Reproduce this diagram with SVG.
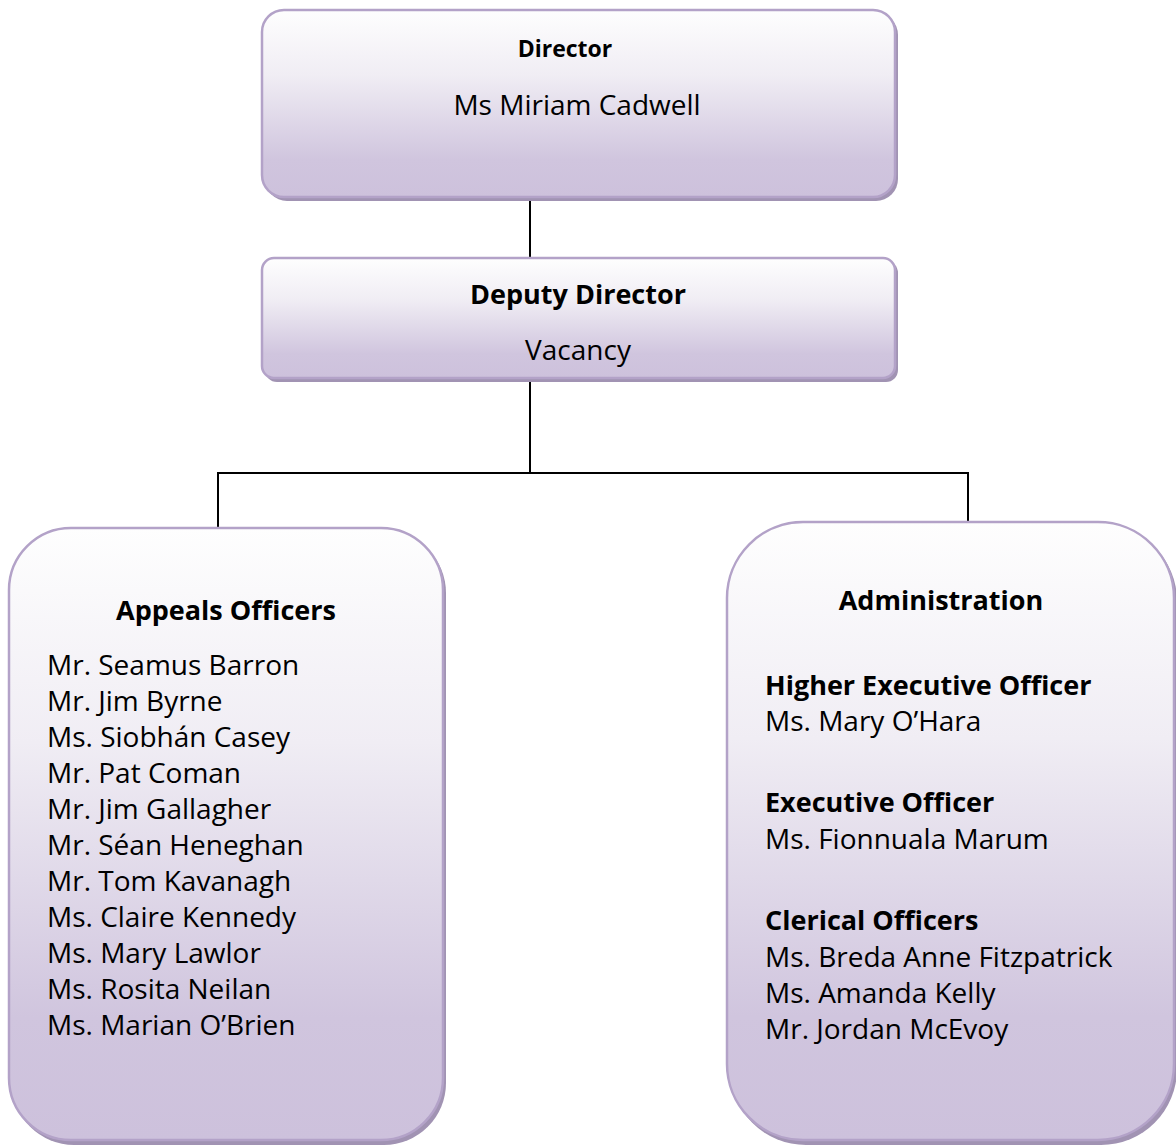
<svg xmlns="http://www.w3.org/2000/svg" width="1176" height="1148" viewBox="0 0 1176 1148">
<style>
.box{fill:url(#g);stroke:#b3a2c8;stroke-width:2.5}
.sh{fill:#a193b3}
text{font-family:"Open Sans","Liberation Sans",sans-serif;fill:#000;font-size:28px}
.b{font-weight:bold;font-size:27px}
.c{text-anchor:middle}
.ln{stroke:#000;stroke-width:2;fill:none}
</style>
<defs>
<linearGradient id="g" x1="0" y1="0" x2="0" y2="1">
<stop offset="0" stop-color="#fefefe"/>
<stop offset="0.35" stop-color="#f0edf4"/>
<stop offset="0.8" stop-color="#d0c5de"/>
<stop offset="1" stop-color="#cdc1dc"/>
</linearGradient>
</defs>
<rect width="1176" height="1148" fill="#fff"/>
<g id="connectors">
<line class="ln" x1="530" y1="197" x2="530" y2="258"/>
<polyline class="ln" points="530,378 530,473 218,473 218,528"/>
<polyline class="ln" points="530,473 968,473 968,522"/>
</g>
<g id="director">
<rect class="sh" x="265" y="13" width="633" height="188" rx="22"/>
<rect class="box" x="262" y="10" width="633" height="187" rx="22"/>
<text class="b c" x="565" y="57" style="font-size:23px">Director</text>
<text class="c" x="577" y="115">Ms Miriam Cadwell</text>
</g>
<g id="deputy">
<rect class="sh" x="265" y="261" width="633" height="121" rx="12"/>
<rect class="box" x="262" y="258" width="633" height="120" rx="12"/>
<text class="b c" x="578" y="304">Deputy Director</text>
<text class="c" x="578" y="360">Vacancy</text>
</g>
<g id="appeals">
<rect class="sh" x="12" y="531" width="434" height="614" rx="62"/>
<rect class="box" x="9" y="528" width="434" height="612" rx="62"/>
<text class="b c" x="226" y="620">Appeals Officers</text>
<text x="47" y="675">Mr. Seamus Barron</text>
<text x="47" y="711">Mr. Jim Byrne</text>
<text x="47" y="747">Ms. Siobhán Casey</text>
<text x="47" y="783">Mr. Pat Coman</text>
<text x="47" y="819">Mr. Jim Gallagher</text>
<text x="47" y="855">Mr. Séan Heneghan</text>
<text x="47" y="891">Mr. Tom Kavanagh</text>
<text x="47" y="927">Ms. Claire Kennedy</text>
<text x="47" y="963">Ms. Mary Lawlor</text>
<text x="47" y="999">Ms. Rosita Neilan</text>
<text x="47" y="1035">Ms. Marian O’Brien</text>
</g>
<g id="administration">
<rect class="sh" x="730" y="525" width="447" height="620" rx="76"/>
<rect class="box" x="727" y="522" width="447" height="618" rx="76"/>
<text class="b c" x="941" y="610">Administration</text>
<text class="b" x="765" y="695">Higher Executive Officer</text>
<text x="765" y="731">Ms. Mary O’Hara</text>
<text class="b" x="765" y="812">Executive Officer</text>
<text x="765" y="849">Ms. Fionnuala Marum</text>
<text class="b" x="765" y="930">Clerical Officers</text>
<text x="765" y="967">Ms. Breda Anne Fitzpatrick</text>
<text x="765" y="1003">Ms. Amanda Kelly</text>
<text x="765" y="1039">Mr. Jordan McEvoy</text>
</g>
</svg>
